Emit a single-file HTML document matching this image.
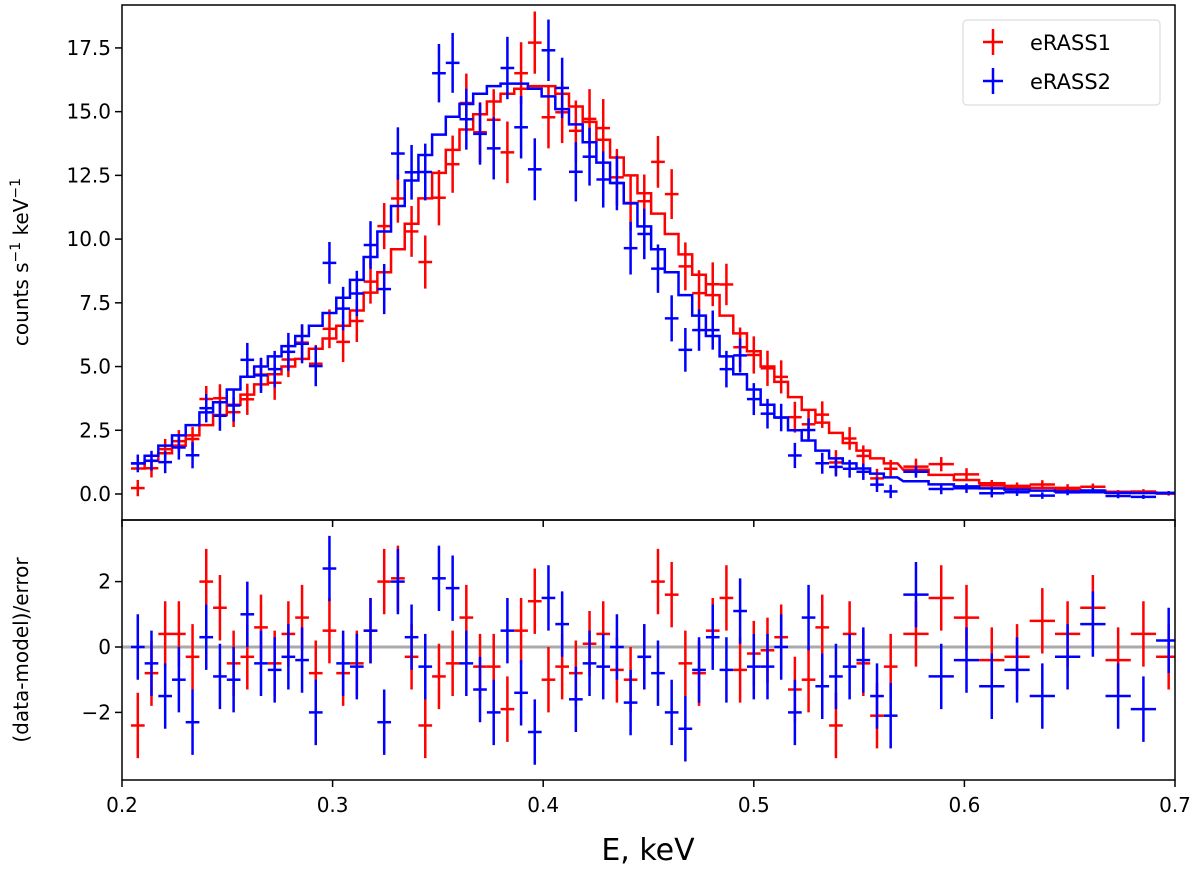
<!DOCTYPE html>
<html><head><meta charset="utf-8"><style>
body{margin:0;background:#fff;}
svg{display:block;font-family:"DejaVu Sans","Liberation Sans",sans-serif;}
</style></head><body>
<svg id="chart" width="1200" height="872"></svg>
<script>
const energies=[0.2075,0.214,0.2205,0.227,0.2335,0.24,0.2465,0.253,0.2595,0.266,0.2725,0.279,0.2855,0.292,0.2985,0.305,0.3115,0.318,0.3245,0.331,0.3375,0.344,0.3505,0.357,0.3635,0.37,0.3765,0.383,0.3895,0.396,0.4025,0.409,0.4155,0.422,0.4285,0.435,0.4415,0.448,0.4545,0.461,0.4675,0.474,0.4805,0.487,0.4935,0.5,0.5065,0.513,0.5195,0.526,0.5325,0.539,0.5455,0.552,0.5585,0.565,0.577,0.589,0.601,0.613,0.625,0.637,0.649,0.661,0.673,0.685,0.697];
const modelRed=[1.0,1.3,1.6,1.9,2.3,2.7,3.1,3.5,3.9,4.3,4.7,5.0,5.3,5.7,6.1,6.6,7.2,7.9,8.7,9.6,10.6,11.6,12.6,13.5,14.3,14.9,15.4,15.7,15.9,16.0,16.0,15.7,15.2,14.6,13.9,13.2,12.5,11.8,11.0,10.2,9.4,8.6,7.8,7.0,6.3,5.6,5.0,4.4,3.8,3.3,2.8,2.4,2.0,1.7,1.4,1.2,0.95,0.75,0.55,0.42,0.32,0.24,0.18,0.13,0.09,0.06,0.04];
const modelBlue=[1.2,1.5,1.9,2.3,2.7,3.2,3.6,4.1,4.6,5.0,5.4,5.8,6.2,6.6,7.1,7.7,8.4,9.3,10.3,11.3,12.3,13.3,14.1,14.8,15.3,15.7,16.0,16.1,16.1,15.9,15.6,15.1,14.5,13.8,13.0,12.2,11.4,10.5,9.6,8.7,7.8,7.0,6.2,5.4,4.7,4.1,3.5,3.0,2.5,2.1,1.7,1.4,1.2,1.0,0.8,0.65,0.5,0.38,0.3,0.22,0.17,0.13,0.1,0.07,0.05,0.04,0.03];
const resRed=[-2.4,-0.8,0.4,0.4,-0.3,2.0,1.2,-0.5,-0.3,0.6,-0.5,0.4,0.9,-0.8,0.5,-0.8,-0.5,0.5,2.0,2.1,-0.3,-2.4,-0.9,-0.5,0.9,-0.6,-0.6,-1.9,0.5,1.4,-1.0,-0.6,-0.8,0.1,0.4,-0.7,-1.0,-0.3,2.0,1.6,-0.5,-0.8,0.5,1.5,-0.7,-0.2,-0.1,0.3,-1.3,-1.0,0.6,-2.4,0.4,-0.5,-2.1,-0.6,0.4,1.5,0.9,-0.4,-0.3,0.8,0.4,1.2,-0.4,0.4,-0.3];
const resBlue=[0.0,-0.5,-1.5,-1.0,-2.3,0.3,-0.9,-1.0,1.0,-0.5,-0.7,-0.3,-0.4,-2.0,2.4,-0.5,-0.6,0.5,-2.3,2.0,0.3,-0.6,2.1,1.8,-0.5,-1.3,-2.0,0.5,-1.4,-2.6,1.5,0.7,-1.6,-0.5,-0.6,0.0,-1.7,-0.3,-0.8,-2.0,-2.5,-0.7,0.3,-0.7,1.1,-0.6,-0.6,0.0,-2.0,0.9,-1.2,-0.9,-0.6,-0.4,-1.5,-2.1,1.6,-0.9,-0.4,-1.2,-0.7,-1.5,-0.3,0.7,-1.5,-1.9,0.2];
const xTicks=[0.2,0.3,0.4,0.5,0.6,0.7];
const yTicksTop=[0.0,2.5,5.0,7.5,10.0,12.5,15.0,17.5];
const yTicksBot=[-2,0,2];

const L=122,R=1175,T1=5,B1=520,T2=520,B2=780;
const xS=v=>L+(v-0.2)/0.5*(R-L);
const yTop=v=>494-v*25.49;
const yBot=v=>647-v*32.7;
const svg=document.getElementById('chart');
const NS='http://www.w3.org/2000/svg';
function el(tag,attrs,parent){const e=document.createElementNS(NS,tag);for(const k in attrs)e.setAttribute(k,attrs[k]);(parent||svg).appendChild(e);return e;}
function errTop(m){return 0.3*Math.sqrt(Math.max(m,0.01))+0.02;}
function halfW(i){const a=i>0?energies[i]-energies[i-1]:energies[1]-energies[0];const b=i<energies.length-1?energies[i+1]-energies[i]:a;return Math.min(a,b)/2;}

const defs=el('defs',{});
const c1=el('clipPath',{id:'c1'},defs);el('rect',{x:L,y:T1,width:R-L,height:B1-T1},c1);
const c2=el('clipPath',{id:'c2'},defs);el('rect',{x:L,y:T2,width:R-L,height:B2-T2},c2);

const zl=el('line',{x1:L,x2:R,y1:yBot(0),y2:yBot(0),stroke:'#aaa','stroke-width':3});


function drawSeries(model,res,color,name){
  const gT=el('g',{'clip-path':'url(#c1)'});
  
  let d='';
  for(let i=0;i<energies.length;i++){
    const hw=halfW(i),x0=xS(energies[i]-hw),x1=xS(energies[i]+hw),y=yTop(model[i]);
    d+=(i===0?'M':'L')+x0+','+y+'L'+x1+','+y;
  }
  const p=el('path',{d:d,fill:'none',stroke:color,'stroke-width':2.5},gT);
  
  const gB=el('g',{'clip-path':'url(#c2)'});
  
  for(let i=0;i<energies.length;i++){
    const hw=halfW(i),e=errTop(model[i]),r=res[i]||0,v=model[i]+r*e;
    const x=xS(energies[i]),xa=xS(energies[i]-hw),xb=xS(energies[i]+hw);
    const g=el('g',{stroke:color,'stroke-width':2.5},gT);
    
    el('line',{x1:xa,x2:xb,y1:yTop(v),y2:yTop(v)},g);
    el('line',{x1:x,x2:x,y1:yTop(v-e),y2:yTop(v+e)},g);
    const g2=el('g',{stroke:color,'stroke-width':2.5},gB);
    
    el('line',{x1:xa,x2:xb,y1:yBot(r),y2:yBot(r)},g2);
    el('line',{x1:x,x2:x,y1:yBot(r-1),y2:yBot(r+1)},g2);
  }
}
drawSeries(modelRed,resRed,'#ff0000','erass1');
drawSeries(modelBlue,resBlue,'#0000ff','erass2');

const f1=el('rect',{x:L,y:T1,width:R-L,height:B1-T1,fill:'none',stroke:'#000','stroke-width':1.5});

const f2=el('rect',{x:L,y:T2,width:R-L,height:B2-T2,fill:'none',stroke:'#000','stroke-width':1.5});


xTicks.forEach(t=>{
  const x=xS(t);
  el('line',{x1:x,x2:x,y1:B1,y2:B1+7,stroke:'#000','stroke-width':1.5});
  el('line',{x1:x,x2:x,y1:B2,y2:B2+7,stroke:'#000','stroke-width':1.5});
  const tx=el('text',{x:x,y:812,'font-size':20,'text-anchor':'middle'});
  tx.textContent=t.toFixed(1);
  
});
yTicksTop.forEach(t=>{
  const y=yTop(t);
  el('line',{x1:L-7,x2:L,y1:y,y2:y,stroke:'#000','stroke-width':1.5});
  const tx=el('text',{x:L-11,y:y+7,'font-size':20,'text-anchor':'end'});
  tx.textContent=t.toFixed(1);
  
});
yTicksBot.forEach(t=>{
  const y=yBot(t);
  el('line',{x1:L-7,x2:L,y1:y,y2:y,stroke:'#000','stroke-width':1.5});
  const tx=el('text',{x:L-11,y:y+7,'font-size':20,'text-anchor':'end'});
  tx.textContent=t===-2?'\u22122':String(t);
  
});
</script>
<svg width="1200" height="872" style="position:absolute;left:0;top:0">
  <text x="648" y="860" font-size="30" text-anchor="middle" font-family="DejaVu Sans, Liberation Sans, sans-serif">E, keV</text>
  <text transform="translate(28,262) rotate(-90)" font-size="20" text-anchor="middle" font-family="DejaVu Sans, Liberation Sans, sans-serif">counts s<tspan baseline-shift="super" font-size="14">−1</tspan> keV<tspan baseline-shift="super" font-size="14">−1</tspan></text>
  <text transform="translate(28,650) rotate(-90)" font-size="20" text-anchor="middle" font-family="DejaVu Sans, Liberation Sans, sans-serif">(data-model)/error</text>
  <g>
    <rect x="963" y="20" width="197" height="85" rx="4" fill="#fff" stroke="#ddd" stroke-width="1.2"/>
    <g stroke="#ff0000" stroke-width="2.5"><line x1="983" x2="1003" y1="42" y2="42"/><line x1="993" x2="993" y1="29" y2="55"/></g>
    <text x="1030" y="50" font-size="21" font-family="DejaVu Sans, Liberation Sans, sans-serif">eRASS1</text>
    <g stroke="#0000ff" stroke-width="2.5"><line x1="983" x2="1003" y1="81" y2="81"/><line x1="993" x2="993" y1="68" y2="94"/></g>
    <text x="1030" y="89" font-size="21" font-family="DejaVu Sans, Liberation Sans, sans-serif">eRASS2</text>
  </g>
</svg>
</body></html>
